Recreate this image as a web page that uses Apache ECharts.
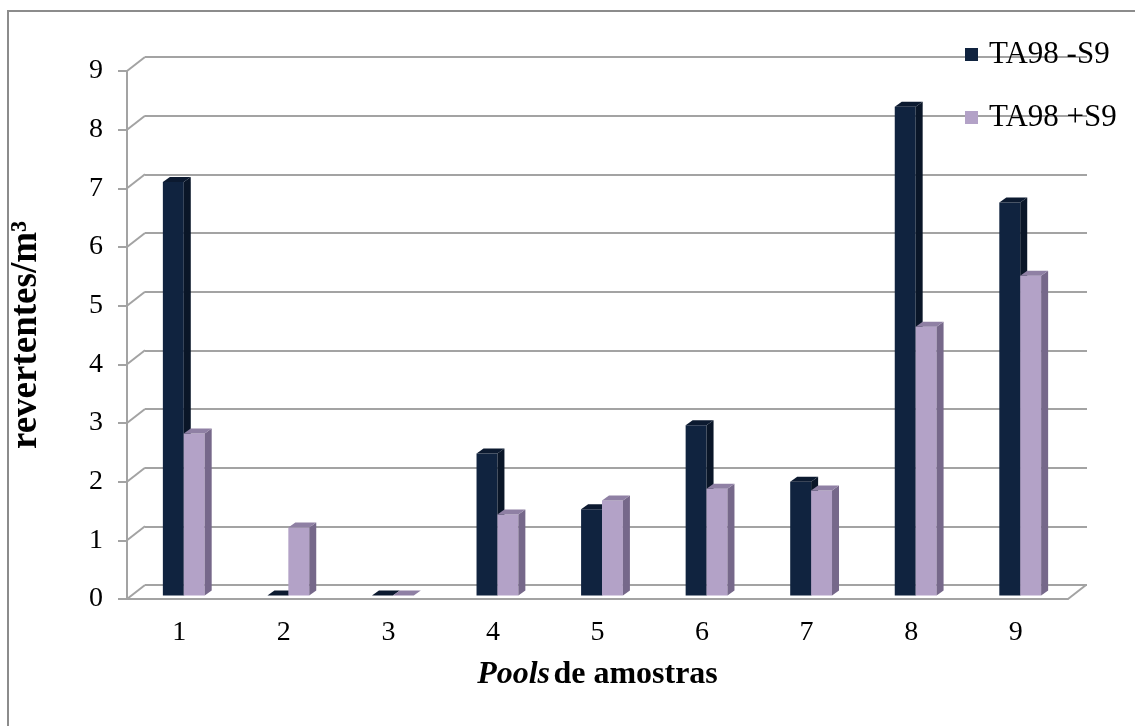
<!DOCTYPE html>
<html>
<head>
<meta charset="utf-8">
<script src="https://cdn.jsdelivr.net/npm/echarts@6/dist/echarts.min.js"></script>
<style>
  html, body { margin: 0; padding: 0; background: #ffffff; }
  #chart { width: 1135px; height: 726px; }
</style>
</head>
<body>
<div id="chart"></div>
<script>
// Sample pools and revertant counts per m3 (TA98 without / with S9)
const categories = ['1', '2', '3', '4', '5', '6', '7', '8', '9'];
const semS9 = [7.05, 0, 0, 2.42, 1.47, 2.90, 1.94, 8.33, 6.70];
const comS9 = [2.76, 1.16, 0, 1.38, 1.62, 1.82, 1.79, 4.58, 5.45];
const yTicks = [0, 1, 2, 3, 4, 5, 6, 7, 8, 9];

const FONT = 'Liberation Serif';
const LINE = '#a3a3a3';
// depth of the box (back wall offset) and of each bar
const DEPTH_X = 18, DEPTH_Y = -14;
const BAR_DX = 7, BAR_DY = -5;

function bar3d(slot, front, side, top) {
  return function (params, api) {
    const i = api.value(0), v = api.value(1);
    const base = api.coord([i, 0]);
    const peak = api.coord([i, v]);
    const band = api.size([1, 0])[0];
    const w = band * 0.2;
    const ox = DEPTH_X * 0.25, oy = DEPTH_Y * 0.25;
    const x0 = base[0] + ox + (slot - 1) * w;
    const yb = base[1] + oy, yt = peak[1] + oy;
    return {
      type: 'group',
      children: [
        { type: 'rect', shape: { x: x0, y: yt, width: w, height: yb - yt }, style: { fill: front } },
        { type: 'polygon', shape: { points: [[x0 + w, yb], [x0 + w, yt], [x0 + w + BAR_DX, yt + BAR_DY], [x0 + w + BAR_DX, yb + BAR_DY]] }, style: { fill: side } },
        { type: 'polygon', shape: { points: [[x0, yt], [x0 + w, yt], [x0 + w + BAR_DX, yt + BAR_DY], [x0 + BAR_DX, yt + BAR_DY]] }, style: { fill: top } }
      ]
    };
  };
}

const chart = echarts.init(document.getElementById('chart'), null, { renderer: 'canvas' });

chart.setOption({
  animation: false,
  backgroundColor: '#ffffff',
  graphic: [{
    type: 'rect',
    shape: { x: 8, y: 11, width: 1160, height: 800 },
    style: { fill: 'none', stroke: '#8c8c8c', lineWidth: 2 },
    z: -10
  }],
  legend: {
    orient: 'vertical',
    left: 960,
    top: 34,
    itemWidth: 13,
    itemHeight: 13,
    itemGap: 32,
    icon: 'rect',
    textStyle: { fontFamily: FONT, fontSize: 31, color: '#000', lineHeight: 31, padding: [0, 0, 0, 6] },
    data: ['TA98 -S9', 'TA98 +S9']
  },
  grid: [
    { left: 127, right: 67, top: 71, bottom: 127 },
    { left: 145, right: 48, top: 57, bottom: 141 }
  ],
  xAxis: [{
    gridIndex: 0,
    type: 'category',
    data: categories,
    axisLine: { show: true, lineStyle: { color: LINE, width: 2 } },
    axisTick: { show: false },
    axisLabel: { fontFamily: FONT, fontSize: 28, color: '#000', margin: 20 },
    name: '{i|Pools} {b|de amostras}',
    nameLocation: 'middle',
    nameGap: 60,
    nameTextStyle: {
      rich: {
        i: { fontFamily: FONT, fontSize: 32, fontWeight: 'bold', fontStyle: 'italic', color: '#000' },
        b: { fontFamily: FONT, fontSize: 32, fontWeight: 'bold', color: '#000' }
      }
    }
  }, {
    gridIndex: 1,
    type: 'category',
    data: categories,
    show: false
  }],
  yAxis: [{
    gridIndex: 0,
    type: 'value',
    min: 0,
    max: 9,
    interval: 1,
    axisLine: { show: true, lineStyle: { color: LINE, width: 2 } },
    axisTick: { show: true, length: 9, lineStyle: { color: LINE, width: 2 } },
    splitLine: { show: false },
    axisLabel: { fontFamily: FONT, fontSize: 28, color: '#000', margin: 24 },
    name: 'revertentes/m³',
    nameLocation: 'middle',
    nameGap: 82,
    nameTextStyle: { fontFamily: FONT, fontSize: 37, fontWeight: 'bold', color: '#000' }
  }, {
    gridIndex: 1,
    type: 'value',
    min: 0,
    max: 9,
    interval: 1,
    axisLine: { show: false },
    axisTick: { show: false },
    axisLabel: { show: false },
    splitLine: { show: true, lineStyle: { color: LINE, width: 2 } }
  }],
  series: [
    {
      // left wall: diagonal from each front tick to the back wall
      type: 'custom',
      xAxisIndex: 0,
      yAxisIndex: 0,
      silent: true,
      data: yTicks.map(v => [0, v]),
      encode: { x: 0, y: 1 },
      renderItem: function (params, api) {
        const p = api.coord([0, api.value(1)]);
        const x = params.coordSys.x;
        return {
          type: 'line',
          shape: { x1: x, y1: p[1], x2: x + DEPTH_X, y2: p[1] + DEPTH_Y },
          style: { stroke: LINE, lineWidth: 2 }
        };
      },
      z: 1
    },
    {
      // right edge of the floor
      type: 'custom',
      xAxisIndex: 0,
      yAxisIndex: 0,
      silent: true,
      data: [[0, 0]],
      encode: { x: 0, y: 1 },
      renderItem: function (params, api) {
        const p = api.coord([0, 0]);
        const x = params.coordSys.x + params.coordSys.width;
        return {
          type: 'line',
          shape: { x1: x, y1: p[1], x2: x + DEPTH_X, y2: p[1] + DEPTH_Y },
          style: { stroke: LINE, lineWidth: 2 }
        };
      },
      z: 1
    },
    {
      name: 'TA98 -S9',
      type: 'custom',
      xAxisIndex: 0,
      yAxisIndex: 0,
      itemStyle: { color: '#10233f' },
      data: semS9.map((v, i) => [i, v]),
      encode: { x: 0, y: 1 },
      renderItem: bar3d(0, '#10233f', '#0a1628', '#0c1a30'),
      z: 5
    },
    {
      name: 'TA98 +S9',
      type: 'custom',
      xAxisIndex: 0,
      yAxisIndex: 0,
      itemStyle: { color: '#b3a2c7' },
      data: comS9.map((v, i) => [i, v]),
      encode: { x: 0, y: 1 },
      renderItem: bar3d(1, '#b3a2c7', '#76688a', '#8f80a4'),
      z: 6
    }
  ]
});
</script>
</body>
</html>
